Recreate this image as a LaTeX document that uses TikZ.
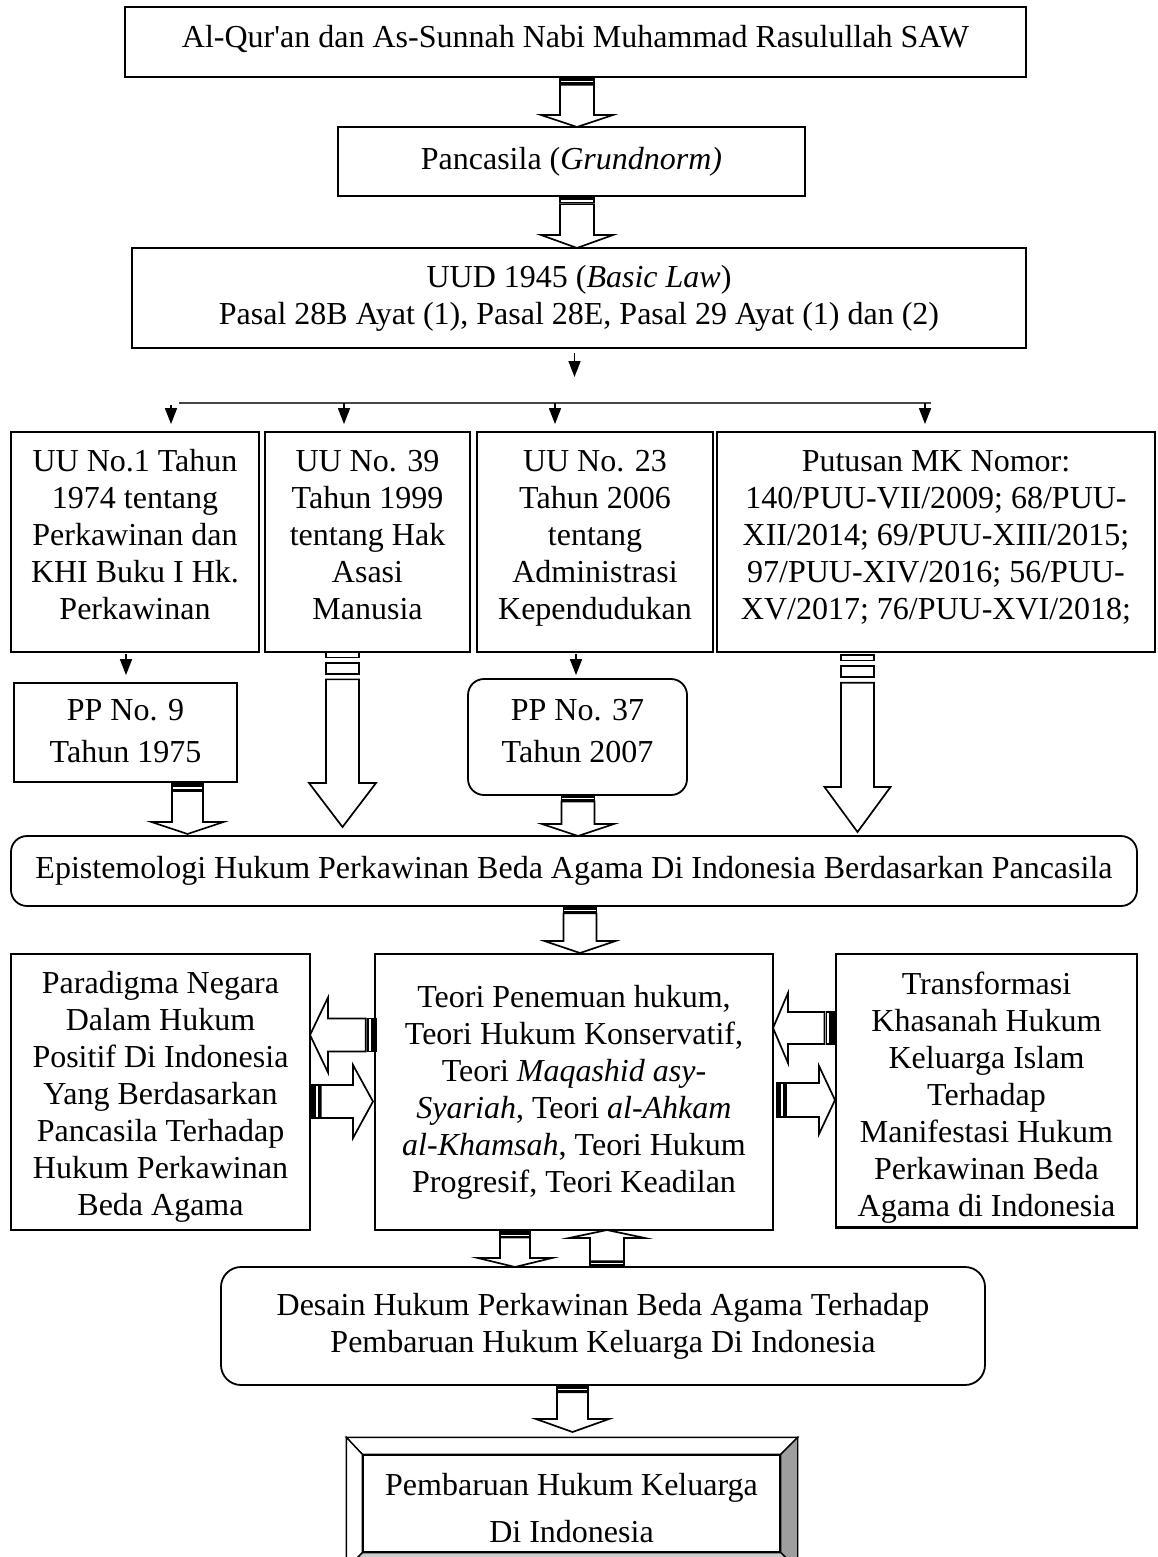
\documentclass[tikz,border=0pt]{standalone}
\usepackage{fontspec}
\setmainfont{Liberation Serif}
\usetikzlibrary{arrows.meta,calc}
\newcommand\fs{\fontsize{32}{37}\selectfont}
\newcommand\shtext[2]{\raisebox{#1}[\height][\depth]{\begin{tabular}{@{}c@{}}#2\end{tabular}}}
\tikzset{
 box/.style={draw, line width=1.8pt, fill=white, align=center, inner sep=0pt, font=\fs},
 rbox/.style={box, rounded corners=16pt},
 blk/.style={draw, line width=1.7pt, fill=white, line join=miter},
 thinarrow/.style={line width=1.6pt, -{Triangle[length=16pt,width=12pt]}},
 hline/.style={line width=2.6pt, draw=black!72},
 bev/.style={draw, line width=1.4pt, line join=miter},
}
% striped block arrow: tail centre (#1,#2), angle #3, length #4, shaft half #5, head half #6, head length #7
\newcommand\barrow[7]{%
\begin{scope}[shift={(#1,#2)},rotate=#3]
\pgfmathsetmacro\La{#4/32}\pgfmathsetmacro\Lb{#4/16}\pgfmathsetmacro\Lc{#4/8}%
\pgfmathsetmacro\Ld{5*#4/32}\pgfmathsetmacro\Le{#4-#7}%
\draw[blk] (0,-#5) rectangle (\La,#5);
\draw[blk] (\Lb,-#5) rectangle (\Lc,#5);
\draw[blk] (\Ld,-#5) -- (\Le,-#5) -- (\Le,-#6) -- (#4,0) -- (\Le,#6) -- (\Le,#5) -- (\Ld,#5) -- cycle;
\end{scope}}
\begin{document}
\begin{tikzpicture}[x=1pt,y=-1pt]
\useasboundingbox (0,0) rectangle (1157,1557);
\clip (0,0) rectangle (1157,1557);

% boxes
\node[box, minimum width=901, minimum height=70] (b1) at (575.5,42) {\shtext{2pt}{Al-Qur\textquotesingle an dan As-Sunnah Nabi Muhammad Rasulullah SAW}};
\node[box, minimum width=467, minimum height=69] (b2) at (571.5,161.5) {Pancasila (\textit{Grundnorm)}};
\node[box, minimum width=894, minimum height=100] (b3) at (579,298) {UUD 1945 (\textit{Basic Law})\\Pasal 28B Ayat (1), Pasal 28E, Pasal 29 Ayat (1) dan (2)};

\node[box, minimum width=248, minimum height=220] (bA) at (135,542) {\shtext{4pt}{UU No.1 Tahun\\1974 tentang\\Perkawinan dan\\KHI Buku I Hk.\\Perkawinan}};
\node[box, minimum width=205, minimum height=220] (bB) at (367.5,542) {\shtext{4pt}{UU No. 39\\Tahun 1999\\tentang Hak\\Asasi\\Manusia}};
\node[box, minimum width=236, minimum height=220] (bC) at (595,542) {\shtext{4pt}{UU No. 23\\Tahun 2006\\tentang\\Administrasi\\Kependudukan}};
\node[box, minimum width=438, minimum height=220] (bD) at (936,542) {\shtext{4pt}{Putusan MK Nomor:\\140/PUU-VII/2009; 68/PUU-\\XII/2014; 69/PUU-XIII/2015;\\97/PUU-XIV/2016; 56/PUU-\\XV/2017; 76/PUU-XVI/2018;}};

\node[box, minimum width=223, minimum height=99] (pp9) at (125.5,732.5) {\shtext{-2pt}{PP No. 9\\[5pt]Tahun 1975}};
\node[rbox, minimum width=219, minimum height=116] (pp37) at (577.5,737) {\shtext{3pt}{PP No. 37\\[5pt]Tahun 2007}};

\node[rbox, minimum width=1126, minimum height=70] (epi) at (574,871) {Epistemologi Hukum Perkawinan Beda Agama Di Indonesia Berdasarkan Pancasila};

\node[box, minimum width=299, minimum height=276] (lft) at (160.5,1092) {\shtext{-5pt}{Paradigma Negara\\Dalam Hukum\\Positif Di Indonesia\\Yang Berdasarkan\\Pancasila Terhadap\\Hukum Perkawinan\\Beda Agama}};
\node[box, minimum width=398, minimum height=276] (ctr) at (574,1092) {Teori Penemuan hukum,\\Teori Hukum Konservatif,\\Teori \textit{Maqashid asy-}\\\textit{Syariah}, Teori \textit{al-Ahkam}\\\textit{al-Khamsah}, Teori Hukum\\Progresif, Teori Keadilan};
\node[box, minimum width=301, minimum height=273] (rgt) at (986.5,1090.5) {\shtext{-8pt}{Transformasi\\Khasanah Hukum\\Keluarga Islam\\Terhadap\\Manifestasi Hukum\\Perkawinan Beda\\Agama di Indonesia}};
\draw[line width=1.8pt] (rgt.south west) -- (rgt.south east);

\node[rbox, rounded corners=20pt, minimum width=764, minimum height=118] (des) at (603,1326) {Desain Hukum Perkawinan Beda Agama Terhadap\\Pembaruan Hukum Keluarga Di Indonesia};

% bevelled final box
\node[box, line width=1.4pt, minimum width=417, minimum height=97] (fin) at (571.5,1503.5) {\shtext{-8pt}{Pembaruan Hukum Keluarga\\[10pt]Di Indonesia}};
\coordinate (Otl) at ($(fin.north west)+(-16,-17)$);
\coordinate (Otr) at ($(fin.north east)+(17,-17)$);
\coordinate (Obr) at ($(fin.south east)+(17,16)$);
\coordinate (Obl) at ($(fin.south west)+(-16,16)$);
\draw[bev, fill=white] (Otl) -- (Otr) -- (fin.north east) -- (fin.north west) -- cycle;
\draw[bev, fill=white] (Otl) -- (Obl) -- (fin.south west) -- (fin.north west) -- cycle;
\draw[bev, fill=black!38] (Otr) -- (Obr) -- (fin.south east) -- (fin.north east) -- cycle;
\draw[bev, fill=black!20] (Obl) -- (Obr) -- (fin.south east) -- (fin.south west) -- cycle;

% thin connectors
\coordinate (x0) at (574.5,0);
\coordinate (hL) at (179,403);
\coordinate (hR) at (931,403);
\coordinate (xr1) at (171,0);
\coordinate (xr2) at (344,0);
\coordinate (xr3) at (555,0);
\coordinate (xr4) at (925,0);
\coordinate (xa) at (126,0);
\coordinate (xc) at (576,0);
\draw[thinarrow, shorten <=4pt, shorten >=26pt] (b3.south -| x0) -- (hL -| x0);
\draw[hline] (hL) -- (hR);
\draw[thinarrow, shorten <=2pt, shorten >=7pt] (hL -| xr1) -- (bA.north -| xr1);
\draw[thinarrow, shorten >=7pt] (hL -| xr2) -- (bB.north -| xr2);
\draw[thinarrow, shorten >=7pt] (hL -| xr3) -- (bC.north -| xr3);
\draw[thinarrow, shorten >=7pt] (hL -| xr4) -- (bD.north -| xr4);
\draw[thinarrow, shorten <=1pt, shorten >=7pt] (bA.south -| xa) -- (pp9.north -| xa);
\draw[thinarrow, shorten <=1pt, shorten >=3pt] (bC.south -| xc) -- (pp37.north -| xc);

% striped block arrows
\barrow{577}{77}{-90}{50}{17}{36}{12}
\barrow{577}{196}{-90}{52}{17}{36}{13}
\barrow{342.5}{652}{-90}{175}{16.5}{33.5}{44}
\barrow{857.5}{655}{-90}{177}{16.5}{33}{45}
\barrow{187.5}{783}{-90}{51}{15.5}{36}{12}
\barrow{578}{795}{-90}{41}{16.5}{36}{12}
\barrow{580}{906}{-90}{47}{16.5}{35.5}{12}
\barrow{515}{1232}{-90}{35}{15}{37}{9}
\barrow{607}{1267}{90}{37}{17}{38}{8}
\barrow{572.5}{1385}{-90}{47}{15.5}{36.5}{13}
\barrow{376}{1035}{180}{66}{16.5}{37.5}{18}
\barrow{311}{1101.5}{0}{62}{16.5}{36.5}{20}
\barrow{834}{1028}{180}{61}{16}{35}{15}
\barrow{777}{1100}{0}{58}{17}{34}{16}
\end{tikzpicture}
\end{document}
